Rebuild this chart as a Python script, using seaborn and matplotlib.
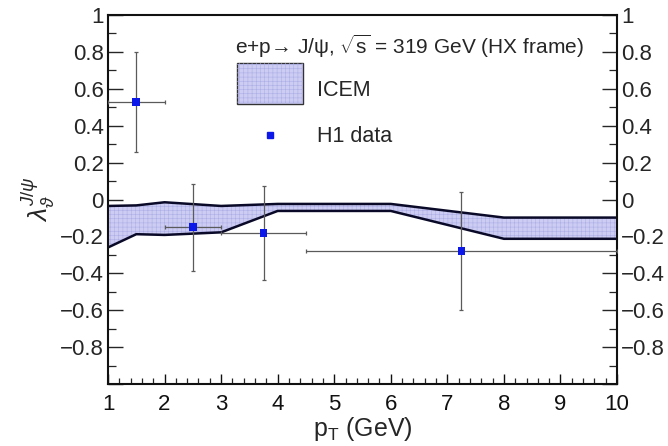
import numpy as np
import pandas as pd
import matplotlib
matplotlib.use("Agg")
import matplotlib.pyplot as plt
import seaborn as sns
from matplotlib.patches import Rectangle
from matplotlib.ticker import MultipleLocator, FixedLocator, FixedFormatter

# ---------------- data ----------------
band_pt = [1.0, 1.5, 2.0, 3.0, 4.0, 6.0, 8.0, 10.0]
band_upper = [-0.035, -0.032, -0.015, -0.035, -0.024, -0.024, -0.098, -0.098]
band_lower = [-0.26, -0.188, -0.192, -0.178, -0.062, -0.062, -0.213, -0.213]

data_pt = [1.5, 2.5, 3.75, 7.25]
data_lam = [0.53, -0.15, -0.18, -0.28]
data_pt_lo = [0.5, 0.5, 0.75, 2.75]
data_pt_hi = [0.5, 0.5, 0.75, 2.75]
data_err = [0.27, 0.235, 0.255, 0.32]

xticks = [1, 2, 3, 4, 5, 6, 7, 8, 9, 10]
yticks = [-1.0, -0.8, -0.6, -0.4, -0.2, 0.0, 0.2, 0.4, 0.6, 0.8, 1.0]
ytick_labels = ["", "\u22120.8", "\u22120.6", "\u22120.4", "\u22120.2", "0", "0.2", "0.4", "0.6", "0.8", "1"]

title_text = "e+p\u2192 J/\u03c8, $\\sqrt{\\mathregular{s}}$ = 319 GeV (HX frame)"

# ---------------- style ----------------
sns.set_theme(style="ticks")
plt.rcParams["font.family"] = ["Liberation Sans", "DejaVu Sans"]
plt.rcParams["mathtext.fontset"] = "custom"
plt.rcParams["mathtext.rm"] = "Liberation Sans"
plt.rcParams["mathtext.it"] = "Liberation Sans:italic"
plt.rcParams["mathtext.bf"] = "Liberation Sans:bold"
plt.rcParams["hatch.linewidth"] = 0.4

fig = plt.figure(figsize=(6.68, 4.46), dpi=100)
ax = fig.add_axes([108 / 668, 1 - 384 / 446, (617 - 108) / 668, (384 - 15) / 446])

band_face = "#cdcdf4"
hatch_col = "#aeaee6"

# band
ax.fill_between(band_pt, band_lower, band_upper, facecolor=band_face, edgecolor="none", zorder=1)
ax.fill_between(band_pt, band_lower, band_upper, facecolor="none", edgecolor=hatch_col,
                hatch="++++", linewidth=0, zorder=1.1)
band_df = pd.DataFrame({"pt": band_pt * 2,
                        "lam": band_upper + band_lower,
                        "edge": ["upper"] * len(band_pt) + ["lower"] * len(band_pt)})
sns.lineplot(data=band_df, x="pt", y="lam", units="edge", estimator=None, color="#0a0a28",
             linewidth=1.8, ax=ax, zorder=2, legend=False)

# data points
ax.errorbar(data_pt, data_lam, xerr=[data_pt_lo, data_pt_hi], yerr=data_err, fmt="none",
            ecolor="#5a5a5a", elinewidth=0.9, capsize=1.2, capthick=0.9, zorder=3)
pts_df = pd.DataFrame({"pt": data_pt, "lam": data_lam})
sns.scatterplot(data=pts_df, x="pt", y="lam", marker="s", s=30, color="#0b18e8",
                edgecolor="none", ax=ax, zorder=4, legend=False)

# axes
ax.set_xlim(1, 10)
ax.set_ylim(-1, 1)
ax.xaxis.set_major_locator(FixedLocator(xticks))
ax.xaxis.set_minor_locator(MultipleLocator(0.2))
ax.yaxis.set_major_locator(FixedLocator(yticks))
ax.yaxis.set_major_formatter(FixedFormatter(ytick_labels))
ax.yaxis.set_minor_locator(MultipleLocator(0.1))
ax.tick_params(axis="x", which="major", direction="in", length=7.5, width=1.0, labelsize=16,
               pad=7.5, top=False, colors="#111111")
ax.tick_params(axis="x", which="minor", direction="in", length=4, width=0.9, top=False)
ax.tick_params(axis="y", which="major", direction="in", length=11, width=1.0, labelsize=16,
               left=True, right=True, labelleft=True, labelright=True, pad=3)
ax.tick_params(axis="y", which="minor", direction="in", length=5.5, width=0.9, left=True, right=True)
for s in ax.spines.values():
    s.set_linewidth(1.5)
    s.set_color("#111111")

ax.set_xlabel(r"p$_{\mathregular{T}}$ (GeV)", fontsize=18, labelpad=0)
ax.set_ylabel(r"$\lambda_{\vartheta}^{J/\psi}$", fontsize=19, labelpad=2)

# legend / annotation
ax.text(3.25, 0.79, title_text, fontsize=15, ha="left", va="baseline", zorder=5)
ax.add_patch(Rectangle((3.28, 0.515), 4.45 - 3.28, 0.226, facecolor=band_face,
                       edgecolor="#333333", linewidth=1.0, zorder=5))
ax.add_patch(Rectangle((3.28, 0.515), 4.45 - 3.28, 0.226, facecolor="none",
                       edgecolor=hatch_col, hatch="++++", linewidth=0, zorder=5.1))
ax.text(4.70, 0.59, "ICEM", fontsize=15.5, ha="left", va="center", zorder=5)
ax.plot([3.86], [0.35], marker="s", markersize=4.5, color="#0b18e8", linestyle="none", zorder=5)
ax.text(4.70, 0.34, "H1 data", fontsize=15.5, ha="left", va="center", zorder=5)

fig.savefig("out.png", dpi=100)
